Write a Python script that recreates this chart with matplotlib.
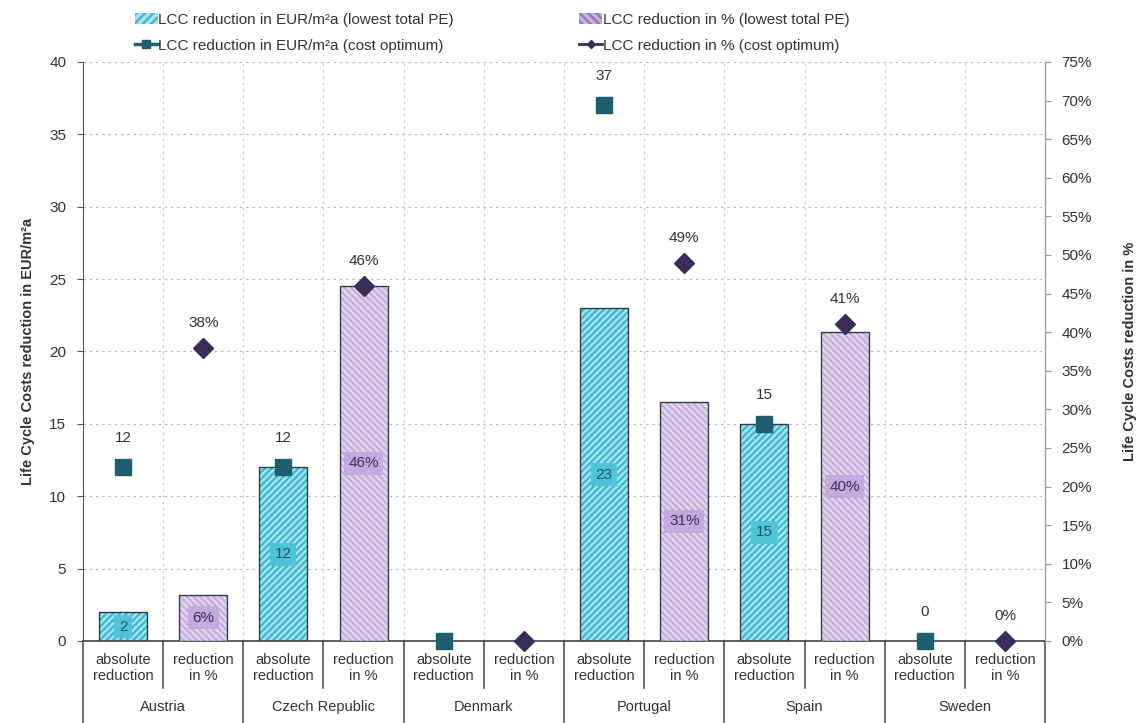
import numpy as np
import matplotlib
matplotlib.use("Agg")
import matplotlib.pyplot as plt
from matplotlib.patches import Patch
from matplotlib.lines import Line2D
from matplotlib.transforms import blended_transform_factory

plt.rcParams['font.family'] = ['Liberation Sans', 'DejaVu Sans']
plt.rcParams['hatch.linewidth'] = 1.6

# data
countries = ['Austria', 'Czech Republic', 'Denmark', 'Portugal', 'Spain', 'Sweden']
sub_labels = ['absolute\nreduction', 'reduction\nin %']
abs_lowest_pe = [2, 12, np.nan, 23, 15, np.nan]      # EUR/m²a
pct_lowest_pe = [6, 46, np.nan, 31, 40, np.nan]      # %
abs_cost_opt = [12, 12, 0, 37, 15, 0]                # EUR/m²a
pct_cost_opt = [38, 46, 0, 49, 41, 0]                # %
opt_labelled = [True, True, False, True, True, True]

cyan_fill = '#a6e4f0'
cyan_hatch = '#3db5cc'
purple_fill = '#c4afde'
purple_hatch = '#e4daf0'
teal = '#1d5f6e'
dark_purple = '#3b2b57'
text_col = '#333333'

n = len(countries)
x_abs = np.arange(n) * 2.0
x_pct = x_abs + 1.0
bw = 0.6

fig = plt.figure(figsize=(11.36, 7.23), dpi=100)
ax = fig.add_axes([83 / 1136, 82 / 723, (1045 - 83) / 1136, (641 - 62) / 723])
ax2 = ax.twinx()

ax.set_xlim(-0.5, 2 * n - 0.5)
ax.set_ylim(0, 40)
ax2.set_ylim(0, 75)

# grid
ax.set_yticks(np.arange(0, 41, 5))
for y in np.arange(5, 41, 5):
    ax.axhline(y, color='#bbbbbb', lw=0.9, ls=(0, (2, 3)), zorder=0)
for xb in np.arange(0.5, 2 * n - 0.5, 1.0):
    ax.axvline(xb, color='#cccccc', lw=0.9, ls=(0, (2, 3)), zorder=0)


def hatched_bars(axis, xs, vals, fill, hatch_col, hatch):
    axis.bar(xs, vals, bw, color=fill, edgecolor='none', zorder=2)
    axis.bar(xs, vals, bw, color='none', edgecolor=hatch_col, hatch=hatch, lw=0, zorder=2)
    axis.bar(xs, vals, bw, color='none', edgecolor='#3a3a3a', lw=1.0, zorder=3)


hatched_bars(ax, x_abs, abs_lowest_pe, cyan_fill, cyan_hatch, '/////')
hatched_bars(ax2, x_pct, pct_lowest_pe, purple_fill, purple_hatch, '\\\\\\\\\\')

# value labels in the middle of the bars
for xa, v in zip(x_abs, abs_lowest_pe):
    if not np.isnan(v):
        ax.text(xa, v / 2, f'{v:g}', ha='center', va='center', fontsize=11, color='#1a5566', zorder=5,
                bbox=dict(boxstyle='square,pad=0.3', fc='#4fc4d9', ec='none'))
for xp, v in zip(x_pct, pct_lowest_pe):
    if not np.isnan(v):
        ax2.text(xp, v / 2, f'{v:g}%', ha='center', va='center', fontsize=11, color='#3d2d5a', zorder=5,
                 bbox=dict(boxstyle='square,pad=0.3', fc='#c2aadd', ec='none'))

# cost optimum markers
ax.plot(x_abs, abs_cost_opt, ls='none', marker='s', ms=12, color=teal, zorder=6, clip_on=False)
ax2.plot(x_pct, pct_cost_opt, ls='none', marker='D', ms=10, color=dark_purple, zorder=6, clip_on=False)
for xa, v, show in zip(x_abs, abs_cost_opt, opt_labelled):
    if show:
        ax.annotate(f'{v:g}', (xa, v), xytext=(0, 16), textcoords='offset points',
                    ha='center', va='bottom', fontsize=11, color=text_col, zorder=7)
for xp, v, show in zip(x_pct, pct_cost_opt, opt_labelled):
    if show:
        ax2.annotate(f'{v:g}%', (xp, v), xytext=(0, 13), textcoords='offset points',
                     ha='center', va='bottom', fontsize=11, color=text_col, zorder=7)

# axes styling
ax.set_xticks([])
ax.tick_params(axis='y', direction='out', length=4, color='#555555', labelcolor=text_col, labelsize=11, pad=8)
ax2.set_yticks(np.arange(0, 76, 5))
ax2.set_yticklabels([f'{v}%' for v in range(0, 76, 5)])
ax2.tick_params(axis='y', direction='out', length=4, color='#999999', labelcolor=text_col, labelsize=11, pad=8)
for a in (ax, ax2):
    a.spines['top'].set_visible(False)
    a.spines['bottom'].set_visible(False)
ax.spines['left'].set_color('#555555')
ax2.spines['left'].set_visible(False)
ax2.spines['right'].set_color('#999999')
ax.axhline(0, color='#444444', lw=1.2, zorder=4, clip_on=False)

ax.set_ylabel('Life Cycle Costs reduction in EUR/m²a', fontsize=10.5, fontweight='bold', color=text_col, labelpad=10)
ax2.set_ylabel('Life Cycle Costs reduction in %', fontsize=10.5, fontweight='bold', color=text_col, labelpad=22)

# two-level category axis
tr = blended_transform_factory(ax.transData, ax.transAxes)
ax_h = (641 - 62)
lvl1_bottom = -(688 - 641) / ax_h
lvl2_bottom = -(722 - 641) / ax_h
for i in range(n):
    ax.text(x_abs[i], -(668 - 641) / ax_h, sub_labels[0], transform=tr, ha='center', va='center',
            fontsize=10.5, color=text_col, linespacing=1.25)
    ax.text(x_pct[i], -(668 - 641) / ax_h, sub_labels[1], transform=tr, ha='center', va='center',
            fontsize=10.5, color=text_col, linespacing=1.25)
    ax.text(x_abs[i] + 0.5, -(707 - 641) / ax_h, countries[i], transform=tr, ha='center', va='center',
            fontsize=10.5, color=text_col)
    ax.plot([x_abs[i] + 0.5] * 2, [0, lvl1_bottom], transform=tr, color='#555555', lw=1.2, clip_on=False)
for i in range(n + 1):
    xg = i * 2 - 0.5
    ax.plot([xg, xg], [0, lvl2_bottom], transform=tr, color='#555555', lw=1.2, clip_on=False)

# legend
handles = [
    Patch(facecolor=cyan_fill, edgecolor=cyan_hatch, hatch='////', lw=0),
    Line2D([], [], color=teal, lw=2.5, marker='s', ms=6),
    Patch(facecolor=purple_fill, edgecolor='#8f7aa8', hatch='\\\\\\\\', lw=0),
    Line2D([], [], color=dark_purple, lw=2, marker='D', ms=4),
]
labels = [
    'LCC reduction in EUR/m²a (lowest total PE)',
    'LCC reduction in EUR/m²a (cost optimum)',
    'LCC reduction in % (lowest total PE)',
    'LCC reduction in % (cost optimum)',
]
fig.legend(handles, labels, loc='upper left', bbox_to_anchor=(121 / 1136, 1 + 1 / 723), ncol=2,
           frameon=False, fontsize=11, handlelength=1.5, handleheight=0.8, handletextpad=0.05,
           columnspacing=8.2, labelspacing=0.75, labelcolor=text_col)

fig.savefig('out.png', dpi=100)
